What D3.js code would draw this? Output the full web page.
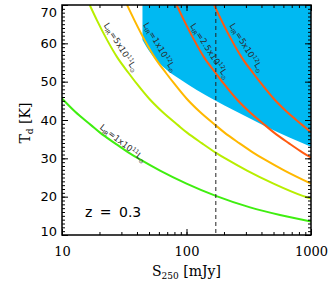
<!DOCTYPE html>
<html>
<head>
<meta charset="utf-8">
<script src="https://cdn.jsdelivr.net/npm/d3@7"></script>
<style>
  body { margin: 0; background: #fff; }
</style>
</head>
<body>
<svg width="331" height="284"></svg>
<script>
// constant L_IR tracks at z = 0.3: S250 [mJy] vs Td [K]
const l11S = [10, 12.7, 17.2, 20.2, 26.7, 34.3, 42.3, 61.3, 100, 172, 324, 564, 1000];
const l11T = [45.6, 42.2, 38.6, 36.7, 33.9, 31.5, 29.7, 26.8, 23.4, 20.2, 17.2, 15.2, 13.5];
const l5e11S = [16.7, 19.1, 23, 27.7, 34.4, 40, 50, 63.6, 85.8, 101, 133.5, 171.5, 211.5, 306.5, 500, 858, 1000];
const l5e11T = [70, 66.0, 60.9, 56.4, 52.2, 49.4, 45.6, 42.2, 38.6, 36.7, 33.9, 31.5, 29.7, 26.8, 23.4, 20.2, 19.5];
const l12S = [33.3, 38.2, 46, 55.3, 68.7, 80.1, 100, 127.2, 171.6, 202, 267, 343, 423, 613, 1000];
const l12T = [70, 66.0, 60.9, 56.4, 52.2, 49.4, 45.6, 42.2, 38.6, 36.7, 33.9, 31.5, 29.7, 26.8, 23.4];
const l25e12S = [83.3, 95.5, 115, 138, 172, 200, 250, 318, 429, 505, 667, 858, 1000];
const l25e12T = [70, 66.0, 60.9, 56.4, 52.2, 49.4, 45.6, 42.2, 38.6, 36.7, 33.9, 31.5, 30.2];
const l5e12S = [166.5, 191, 230, 276.5, 343.5, 400.5, 500, 636, 858, 1000];
const l5e12T = [70, 66.0, 60.9, 56.4, 52.2, 49.4, 45.6, 42.2, 38.6, 36.8];

// lower edge of the shaded (blue) region
const shadeS = [44.3, 50.9, 65.1, 88.7, 120.8, 171.6, 237.6, 440.9, 1000];
const shadeT = [60.9, 57.7, 53.8, 50.6, 47.8, 45.0, 42.6, 38.2, 33.0];

const cutS = 172;   // dashed vertical line
const redshift = "0.3";

const lumMant = ["1", "5", "1", "2.5", "5"];
const lumExp = ["11", "11", "12", "12", "12"];
const lumColors = ["#3fee10", "#b8ee00", "#ffb800", "#ff5a10", "#ff5a10"];

const sTicks = [10, 100, 1000];
const tTicks = [10, 20, 30, 40, 50, 60, 70];

const tracks = [
    [l11S, l11T], [l5e11S, l5e11T], [l12S, l12T], [l25e12S, l25e12T], [l5e12S, l5e12T]
].map(([s, t]) => s.map((v, i) => ({ s: v, t: t[i] })));

const svg = d3.select("svg");
const pLeft = 62, pRight = 311, pTop = 5, pBottom = 235;

const x = d3.scaleLog().domain([10, 1000]).range([pLeft, pRight]);
const y = d3.scaleLinear().domain([10, 70]).range([pBottom, pTop]);

svg.append("clipPath").attr("id", "plot")
    .append("rect")
    .attr("x", pLeft).attr("y", pTop)
    .attr("width", pRight - pLeft).attr("height", pBottom - pTop);

const plot = svg.append("g").attr("clip-path", "url(#plot)");

// shaded region: between its lower edge and the top of the plot
const shade = shadeS.map((s, i) => ({ s, t: shadeT[i] }));
plot.append("path")
    .datum(shade)
    .attr("fill", "#00b9f2")
    .attr("d", d3.area()
        .x(d => x(d.s))
        .y0(y(70))
        .y1(d => y(d.t))
        .curve(d3.curveMonotoneX));

const line = d3.line()
    .x(d => x(d.s))
    .y(d => y(d.t))
    .curve(d3.curveMonotoneX);

plot.selectAll("path.track")
    .data(tracks)
    .join("path")
    .attr("class", "track")
    .attr("fill", "none")
    .attr("stroke", (d, i) => lumColors[i])
    .attr("stroke-width", 2)
    .attr("d", line);

plot.append("line")
    .attr("x1", x(cutS)).attr("x2", x(cutS))
    .attr("y1", pTop).attr("y2", pBottom)
    .attr("stroke", "#222")
    .attr("stroke-width", 1)
    .attr("stroke-dasharray", "4,3");

// luminosity labels, placed along each track
const labelAt = [
    { s: 30.9, t: 34.0, a: 38 },
    { s: 29.8, t: 59.0, a: 57.5 },
    { s: 61.3, t: 59.0, a: 59 },
    { s: 154.4, t: 58.0, a: 57 },
    { s: 304.5, t: 58.9, a: 58 }
];

labelAt.forEach((p, i) => {
    const txt = svg.append("text")
        .attr("transform", `translate(${x(p.s)},${y(p.t)}) rotate(${p.a})`)
        .attr("text-anchor", "middle")
        .attr("dy", "0.35em")
        .attr("font-family", "DejaVu Sans")
        .attr("font-size", 8.5)
        .attr("fill", "#2a2a2a");
    txt.append("tspan").text("L");
    txt.append("tspan").attr("font-size", 5.8).attr("dy", 2).text("IR");
    txt.append("tspan").attr("dy", -2).text(`=${lumMant[i]}x10`);
    txt.append("tspan").attr("font-size", 5.8).attr("dy", -3).text(lumExp[i]);
    txt.append("tspan").attr("dy", 3).text("L");
    txt.append("tspan").attr("font-size", 5.8).attr("dy", 2).text("\u2299");
});

// axes: ticks point inward on all four sides
const sMinor = x.ticks();
const tMinor = d3.range(10, 71, 1);

function styleAxis(g) {
    g.select(".domain").remove();
    g.selectAll(".tick line").attr("stroke", "#000").attr("stroke-width", 1);
}

svg.append("g")
    .attr("transform", `translate(0,${pBottom})`)
    .call(d3.axisBottom(x).tickValues(sMinor).tickSize(-3).tickFormat(""))
    .call(styleAxis);
svg.append("g")
    .attr("transform", `translate(0,${pTop})`)
    .call(d3.axisTop(x).tickValues(sMinor).tickSize(-3).tickFormat(""))
    .call(styleAxis);
svg.append("g")
    .attr("transform", `translate(0,${pTop})`)
    .call(d3.axisTop(x).tickValues(sTicks).tickSize(-6).tickFormat(""))
    .call(styleAxis);

const xAxis = svg.append("g")
    .attr("transform", `translate(0,${pBottom})`)
    .call(d3.axisBottom(x).tickValues(sTicks).tickSize(-6).tickPadding(12).tickFormat(d3.format("d")))
    .call(styleAxis);
xAxis.selectAll("text")
    .attr("font-family", "DejaVu Serif")
    .attr("font-size", 13)
    .attr("fill", "#000");

svg.append("g")
    .attr("transform", `translate(${pLeft},0)`)
    .call(d3.axisLeft(y).tickValues(tMinor).tickSize(-3).tickFormat(""))
    .call(styleAxis);
svg.append("g")
    .attr("transform", `translate(${pRight},0)`)
    .call(d3.axisRight(y).tickValues(tMinor).tickSize(-3).tickFormat(""))
    .call(styleAxis);
svg.append("g")
    .attr("transform", `translate(${pRight},0)`)
    .call(d3.axisRight(y).tickValues(tTicks).tickSize(-6).tickFormat(""))
    .call(styleAxis);

const yAxis = svg.append("g")
    .attr("transform", `translate(${pLeft},0)`)
    .call(d3.axisLeft(y).tickValues(tTicks).tickSize(-6).tickPadding(5))
    .call(styleAxis);
yAxis.selectAll("text")
    .attr("font-family", "DejaVu Sans")
    .attr("font-size", 13)
    .attr("fill", "#000")
    .attr("dy", d => d === 70 ? "0.85em" : d === 10 ? "0.05em" : "0.32em");

svg.append("rect")
    .attr("x", pLeft).attr("y", pTop)
    .attr("width", pRight - pLeft).attr("height", pBottom - pTop)
    .attr("fill", "none")
    .attr("stroke", "#000")
    .attr("stroke-width", 1.5);

// axis titles
const xTitle = svg.append("text")
    .attr("x", (pLeft + pRight) / 2)
    .attr("y", 276)
    .attr("text-anchor", "middle")
    .attr("font-family", "DejaVu Serif")
    .attr("font-size", 14);
xTitle.append("tspan").text("S");
xTitle.append("tspan").attr("font-size", 9).attr("dy", 3).text("250");
xTitle.append("tspan").attr("dy", -3).text(" [mJy]");

const yTitle = svg.append("text")
    .attr("transform", "translate(30,123) rotate(-90)")
    .attr("text-anchor", "middle")
    .attr("font-family", "DejaVu Serif")
    .attr("font-size", 14);
yTitle.append("tspan").text("T");
yTitle.append("tspan").attr("font-size", 9).attr("dy", 3).text("d");
yTitle.append("tspan").attr("dy", -3).text(" [K]");

svg.append("text")
    .attr("x", 85)
    .attr("y", 217)
    .attr("font-family", "DejaVu Sans")
    .attr("font-size", 14)
    .attr("word-spacing", 3)
    .text(`z = ${redshift}`);
</script>
</body>
</html>
